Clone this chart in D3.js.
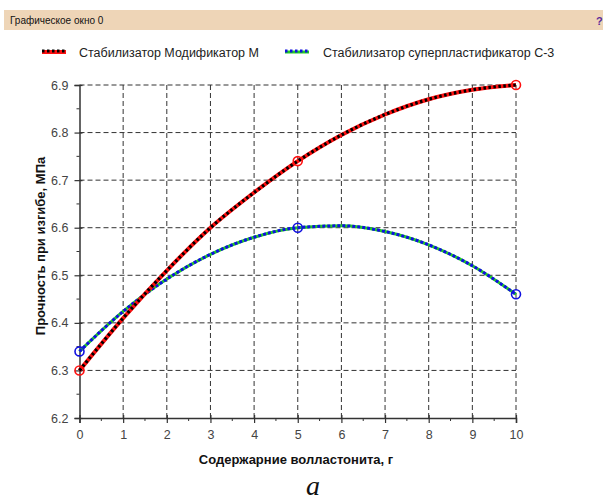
<!DOCTYPE html>
<html><head><meta charset="utf-8">
<script src="https://cdn.jsdelivr.net/npm/d3@7"></script>
<style>body{margin:0;background:#fff}svg{display:block}</style>
</head><body>
<svg id="c" width="603" height="500"></svg>
<script>
// ---- data ----
const windowTitle = "Графическое окно 0";
const seriesNames = ["Стабилизатор Модификатор М", "Стабилизатор суперпластификатор С-3"];
const curveX = [0,1,2,3,4,5,6,7,8,9,10];
const modCurve = [6.30,6.41,6.51,6.60,6.674,6.74,6.795,6.838,6.87,6.89,6.90];
const c3Curve  = [6.34,6.424,6.492,6.544,6.58,6.60,6.604,6.592,6.564,6.52,6.46];
const pointX = [0,5,10];
const modPoints = [6.30,6.74,6.90];
const c3Points  = [6.34,6.60,6.46];
const xTicks = [0,1,2,3,4,5,6,7,8,9,10];
const yTicks = [6.2,6.3,6.4,6.5,6.6,6.7,6.8,6.9];
const xTitle = "Содержарние волластонита, г";
const yTitle = "Прочность при изгибе, МПа";
const caption = "a";

const svg = d3.select("#c");
const font = "'Liberation Sans', Arial, sans-serif";

// title bar
svg.append("rect").attr("x",4).attr("y",10).attr("width",599).attr("height",20).attr("fill","#EED5B7");
svg.append("text").attr("x",10).attr("y",24).attr("font-family",font).attr("font-size",10).attr("fill","#111").text(windowTitle);
svg.append("text").attr("x",596).attr("y",25).attr("font-family",font).attr("font-size",11).attr("font-weight","bold").attr("fill","#5a2a9a").text("?");

const L = 79.5, R = 516, T = 85, B = 418;
const x = d3.scaleLinear().domain([0,10]).range([L,R]);
const y = d3.scaleLinear().domain([6.2,6.9]).range([B,T]);

// grid
const g = svg.append("g");
g.selectAll(".gx").data(xTicks.filter(d=>d>0)).join("line")
  .attr("x1",d=>x(d)).attr("x2",d=>x(d)).attr("y1",T).attr("y2",B)
  .attr("stroke","#333").attr("stroke-width",1).attr("stroke-dasharray","5,3");
g.selectAll(".gy").data(yTicks.filter(d=>d>6.2)).join("line")
  .attr("y1",d=>y(d)).attr("y2",d=>y(d)).attr("x1",L).attr("x2",R)
  .attr("stroke","#333").attr("stroke-width",1).attr("stroke-dasharray","5,3");

// axes
const xAxis = d3.axisBottom(x).tickValues(xTicks).tickSize(5).tickFormat(d3.format("d"));
const xa = svg.append("g").attr("transform",`translate(0,${B})`).call(xAxis);
const yAxis = d3.axisLeft(y).tickValues(yTicks).tickSize(5).tickFormat(d3.format(".1f"));
const ya = svg.append("g").attr("transform",`translate(${L},0)`).call(yAxis);
[xa,ya].forEach(a=>{
  a.select(".domain").attr("stroke","#333").attr("stroke-width",1.5);
  a.selectAll(".tick line").attr("stroke","#333").attr("stroke-width",1.2);
  a.selectAll("text").attr("font-family",font).attr("font-size",12.5).attr("fill","#444");
});
xa.selectAll(".tick line").attr("y1",-3);
ya.selectAll(".tick line").attr("x1",3);
xa.selectAll("text").attr("dy","1.05em");
ya.selectAll("text").attr("x",-11);
// minor ticks
const xMinor = xTicks.slice(0,-1).map(d=>d+0.5);
svg.append("g").selectAll("line").data(xMinor).join("line")
  .attr("x1",d=>x(d)).attr("x2",d=>x(d)).attr("y1",B).attr("y2",B+3).attr("stroke","#333");
const yMinor = yTicks.slice(0,-1).map(d=>d+0.05);
svg.append("g").selectAll("line").data(yMinor).join("line")
  .attr("y1",d=>y(d)).attr("y2",d=>y(d)).attr("x1",L-3).attr("x2",L).attr("stroke","#333");

// axis titles
svg.append("text").attr("x",296).attr("y",464).attr("text-anchor","middle")
  .attr("font-family",font).attr("font-size",13).attr("font-weight","bold").attr("fill","#111").text(xTitle);
svg.append("text").attr("transform","translate(45,246) rotate(-90)").attr("text-anchor","middle")
  .attr("font-family",font).attr("font-size",13).attr("font-weight","bold").attr("fill","#111").text(yTitle);
svg.append("text").attr("x",313).attr("y",495).attr("text-anchor","middle")
  .attr("font-family","'Liberation Serif','Times New Roman',serif").attr("font-style","italic")
  .attr("font-size",28).attr("fill","#111").text(caption);

// curves
const line = d3.line().x(d=>x(d[0])).y(d=>y(d[1])).curve(d3.curveMonotoneX);
const modData = curveX.map((d,i)=>[d,modCurve[i]]);
const c3Data = curveX.map((d,i)=>[d,c3Curve[i]]);
const cg = svg.append("g");
cg.append("path").datum(c3Data).attr("d",line).attr("fill","none").attr("stroke","#22cc22").attr("stroke-width",3);
cg.append("path").datum(c3Data).attr("d",line).attr("fill","none").attr("stroke","#1010e0").attr("stroke-width",3).attr("stroke-dasharray","3,2");
cg.append("path").datum(modData).attr("d",line).attr("fill","none").attr("stroke","#ff1010").attr("stroke-width",4);
cg.append("path").datum(modData).attr("d",line).attr("fill","none").attr("stroke","#000").attr("stroke-width",3.2).attr("stroke-dasharray","2.5,2.5");

// markers
cg.selectAll(".pm").data(pointX.map((d,i)=>[d,modPoints[i]])).join("circle")
  .attr("cx",d=>x(d[0])).attr("cy",d=>y(d[1])).attr("r",4.5).attr("fill","none").attr("stroke","#ff1010").attr("stroke-width",1.6);
cg.selectAll(".pc").data(pointX.map((d,i)=>[d,c3Points[i]])).join("circle")
  .attr("cx",d=>x(d[0])).attr("cy",d=>y(d[1])).attr("r",4.5).attr("fill","none").attr("stroke","#1010e0").attr("stroke-width",1.6);

// legend
const lg = svg.append("g");
const legItems = [
  {x1:42,x2:66,tx:79,base:"#ff1010",bw:4,dot:"#000",dw:3},
  {x1:285,x2:309,tx:323,base:"#22cc22",bw:3,dot:"#1010e0",dw:3}
];
legItems.forEach((it,i)=>{
  lg.append("line").attr("x1",it.x1).attr("x2",it.x2).attr("y1",52).attr("y2",52).attr("stroke",it.base).attr("stroke-width",it.bw);
  lg.append("line").attr("x1",it.x1).attr("x2",it.x2).attr("y1",51).attr("y2",51).attr("stroke",it.dot).attr("stroke-width",it.dw).attr("stroke-dasharray","2.5,2.5");
  lg.append("text").attr("x",it.tx).attr("y",57).attr("font-family",font).attr("font-size",12.5).attr("fill","#222").text(seriesNames[i]);
});
</script>
</body></html>
